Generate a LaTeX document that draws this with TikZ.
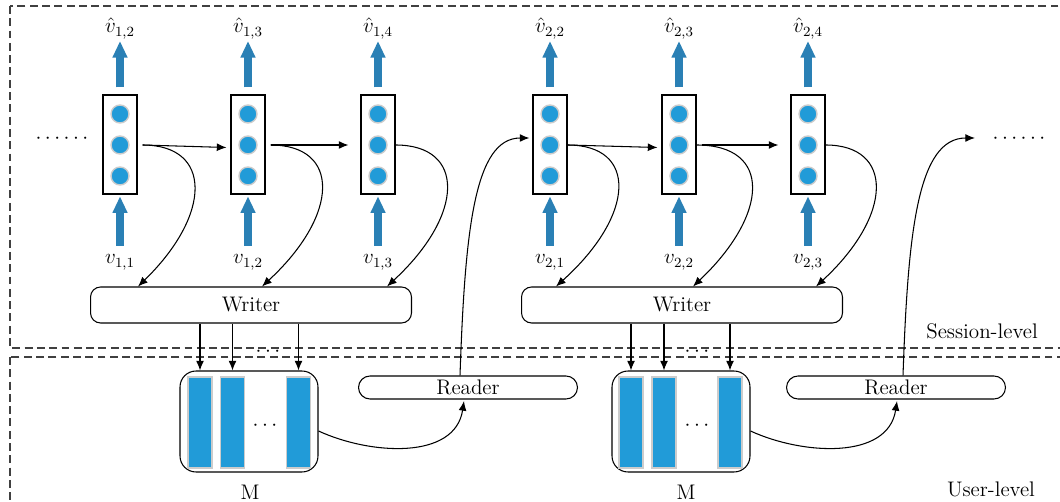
\documentclass[tikz,border=0pt]{standalone}
\usetikzlibrary{arrows.meta,calc}
\definecolor{cellblue}{HTML}{219BD8}
\definecolor{arrblue}{HTML}{2A80B5}
\definecolor{dashgray}{HTML}{404040}
\begin{document}
\begin{tikzpicture}[x=0.02cm,y=-0.02cm,font=\fontsize{12}{14}\selectfont,
 cell/.style={draw,line width=0.6pt,minimum width=0.68cm,minimum height=1.98cm,inner sep=0},
 dotc/.style={circle,fill=cellblue,draw=gray!40,line width=0.8pt,minimum size=0.36cm,inner sep=0},
 bar/.style={fill=cellblue,draw=gray!40,line width=0.8pt,minimum width=0.48cm,minimum height=1.82cm,inner sep=0},
 writer/.style={draw,rounded corners=0.2cm,line width=0.6pt,minimum width=6.42cm,minimum height=0.72cm,inner sep=0},
 reader/.style={draw,rounded corners=0.23cm,line width=0.6pt,minimum width=4.38cm,minimum height=0.46cm,inner sep=0},
 mem/.style={draw,rounded corners=0.32cm,line width=0.6pt,minimum width=2.76cm,minimum height=2.02cm,inner sep=0},
 lab/.style={inner sep=1pt,anchor=base},
 blarr/.style={draw=arrblue,line width=4.5pt,-{Triangle[length=9.5pt,width=8pt]}},
 arr/.style={-{Latex[length=5.5pt,width=4.5pt]},line width=0.6pt},
 lev/.style={draw=dashgray,dash pattern=on 4.5pt off 2.5pt,line width=0.6pt}
]
\useasboundingbox (0,0) rectangle (1060,502);
\fill[white] (0,0) rectangle (1060,502);
\begin{scope}
\clip (0,0) rectangle (1060,502);
\draw[lev] (10,6) rectangle (1090,348);
\draw[lev] (10,357) rectangle (1090,530);
\end{scope}

% cells, labels, blue arrows
\foreach \i/\x/\g/\h/\l in {1/120/1/2/1, 2/248/1/3/2, 3/378/1/4/3, 4/550/2/2/1, 5/679/2/3/2, 6/808/2/4/3}{
  \node[cell] (c\i) at (\x,144.5) {};
  \node[dotc] (c\i-a) at (\x,114) {};
  \node[dotc] (c\i-b) at (\x,145) {};
  \node[dotc] (c\i-c) at (\x,176) {};
  \node[lab] (v\i) at (\x,264) {$v_{\g,\l}$};
  \node[lab] (h\i) at (\x,33) {$\hat{v}_{\g,\h}$};
  \draw[blarr,shorten <=4pt,shorten >=1pt] (v\i.north) -- (c\i.south);
  \draw[blarr,shorten <=4pt] (c\i.north) -- (h\i.south);
}

% side dots
\node (ldots) at (62,139) {$\cdots\cdots$};
\node (rdots) at (1019,139) {$\cdots\cdots$};

% writers
\node[writer] (w1) at (251,305) {Writer};
\node[writer] (w2) at (682,305) {Writer};

% memories
\node[mem] (m1) at (249,421.5) {};
\node[bar] (b11) at (200,422.5) {};
\node[bar] (b12) at (232.5,422.5) {};
\node[bar] (b13) at (298.5,422.5) {};
\node (md1) at (265,426) {$\cdots$};
\node (ml1) at (250,492) {M};
\node[mem] (m2) at (681,421.5) {};
\node[bar] (b21) at (631,422.5) {};
\node[bar] (b22) at (664,422.5) {};
\node[bar] (b23) at (730,422.5) {};
\node (md2) at (697,426) {$\cdots$};
\node (ml2) at (686,492) {M};

% readers
\node[reader] (r1) at (468,387.5) {Reader};
\node[reader] (r2) at (896,387.5) {Reader};

% level labels
\node (sl) at (982,331) {Session-level};
\node (ul) at (991,489) {User-level};

% writer -> memory
\foreach \w/\m in {1/1,2/2}{
  \draw[arr] (w\w.south -| b\m1) -- (b\m1 |- m\m.north);
  \draw[arr] (w\w.south -| b\m2) -- (b\m2 |- m\m.north);
  \draw[arr] (w\w.south -| b\m3) -- (b\m3 |- m\m.north);
}
\node (wd1) at (268,352) {$\cdots$};
\node (wd2) at (697,352) {$\cdots$};

% horizontal arrows
\draw[arr] ($(c1.east)+(5,0.5)$) -- ($(c2.west)+(-4,3)$);
\draw[arr] ($(c2.east)+(5,0.5)$) -- ($(c3.west)+(-12,0.5)$);
\draw[arr] ($(c4.east)+(0,0.5)$) -- ($(c5.west)+(-4,3)$);
\draw[arr] ($(c5.east)+(5,0.5)$) -- ($(c6.west)+(-12,0.5)$);

% cells -> writer
\draw[arr] ($(c1.east)+(5,0.5)$) .. controls +(70,0) and +(74,-72) .. ($(w1.north west)+(48,0)$);
\draw[arr] ($(c2.east)+(5,0.5)$) .. controls +(70,0) and +(78,-72) .. ($(w1.north west)+(172,0)$);
\draw[arr] ($(c3.east)+(0,0.5)$) .. controls +(70,0) and +(78,-72) .. ($(w1.north west)+(297,0)$);
\draw[arr] ($(c4.east)+(0,0.5)$) .. controls +(70,0) and +(80,-72) .. ($(w2.north west)+(35,0)$);
\draw[arr] ($(c5.east)+(0,0.5)$) .. controls +(76,0) and +(76,-72) .. ($(w2.north west)+(172,0)$);
\draw[arr] ($(c6.east)+(0,0.5)$) .. controls +(68,0) and +(78,-72) .. ($(w2.north west)+(295,0)$);

% memory -> reader
\draw[arr] ($(m1.east)+(0,9.5)$) .. controls +(52,24) and +(-9,59) .. ($(r1.south)+(-4,1.5)$);
\draw[arr] ($(m2.east)+(0,9.5)$) .. controls +(52,24) and +(-9,59) .. ($(r2.south)+(1,1.5)$);

% reader -> next session
\coordinate (nx) at (975,138);
\draw[arr] ($(r1.north)+(-8,0)$) .. controls +(5,-146) and +(-55,0) .. ($(c4.west)+(-3,-6.5)$);
\draw[arr] ($(r2.north)+(7,0)$) .. controls +(5,-146) and +(-57,0) .. (nx);
\end{tikzpicture}
\end{document}
